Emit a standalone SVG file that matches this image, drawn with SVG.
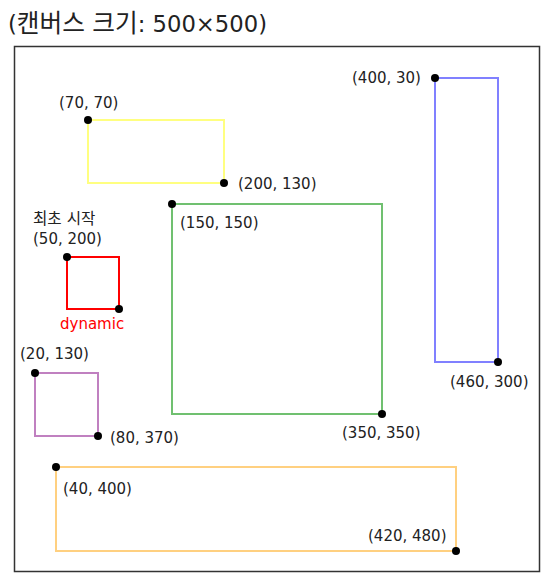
<svg xmlns="http://www.w3.org/2000/svg" width="550" height="582" viewBox="0 0 550 582">
<style>
text{font-family:"DejaVu Sans","Noto Sans CJK KR",sans-serif;font-size:15px;fill:#222}
.title{font-size:22.7px}
.ko{font-size:24.7px}
.box{fill:none;stroke-width:2}
.dot{fill:#000}
</style>
<rect width="550" height="582" fill="#fff"/>
<text class="title" x="8" y="32">(<tspan class="ko">캔버스</tspan> <tspan class="ko">크기</tspan>: 500×500)</text>
<rect id="canvas" x="14.5" y="46.5" width="525" height="525" fill="none" stroke="#333" stroke-width="1.5"/>
<g id="yellow">
<rect class="box" x="88" y="120" width="136" height="63" stroke="#ffff80"/>
<circle class="dot" cx="88" cy="120" r="4"/><circle class="dot" cx="224" cy="183" r="4"/>
<text x="59" y="108">(70, 70)</text><text x="238" y="189">(200, 130)</text>
</g>
<g id="red">
<rect class="box" x="67" y="257" width="52" height="52" stroke="#ff0000"/>
<circle class="dot" cx="67" cy="257" r="4"/><circle class="dot" cx="119" cy="309" r="4"/>
<text x="33" y="224" style="font-size:15.6px">최초 시작</text><text x="33" y="244">(50, 200)</text>
<text x="60" y="329" style="fill:#ff0000">dynamic</text>
</g>
<g id="purple">
<rect class="box" x="35" y="373" width="63" height="63" stroke="#c080c0"/>
<circle class="dot" cx="35" cy="373" r="4"/><circle class="dot" cx="98" cy="436" r="4"/>
<text x="20" y="359">(20, 130)</text><text x="110" y="443">(80, 370)</text>
</g>
<g id="green">
<rect class="box" x="172" y="204" width="210" height="210" stroke="#70c070"/>
<circle class="dot" cx="172" cy="204" r="4"/><circle class="dot" cx="382" cy="414" r="4"/>
<text x="180" y="228">(150, 150)</text><text x="342" y="438">(350, 350)</text>
</g>
<g id="blue">
<rect class="box" x="435" y="78" width="63" height="284" stroke="#8080ff"/>
<circle class="dot" cx="435" cy="78" r="4"/><circle class="dot" cx="498" cy="362" r="4"/>
<text x="352" y="83">(400, 30)</text><text x="450" y="387">(460, 300)</text>
</g>
<g id="orange">
<rect class="box" x="56" y="467" width="400" height="84" stroke="#ffd080"/>
<circle class="dot" cx="56" cy="467" r="4"/><circle class="dot" cx="456" cy="551" r="4"/>
<text x="63" y="494">(40, 400)</text><text x="368" y="541">(420, 480)</text>
</g>
<g id="connectors"/>
</svg>
